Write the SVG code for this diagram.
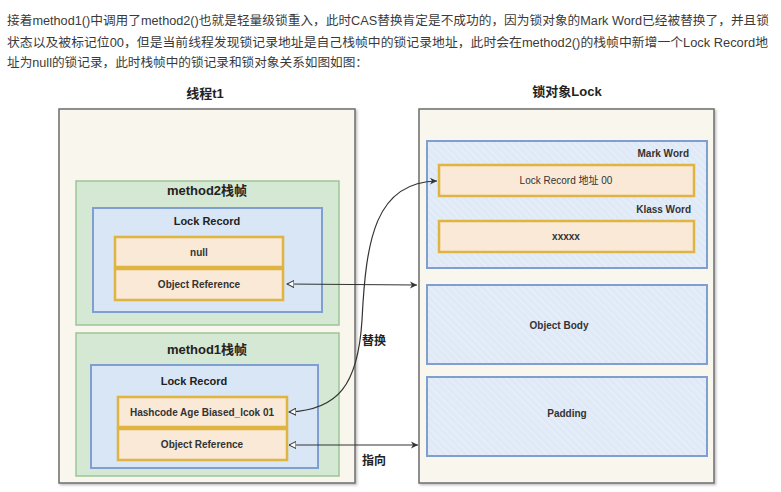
<svg xmlns="http://www.w3.org/2000/svg" width="781" height="492" viewBox="0 0 781 492">
<style>
text{font-family:"Liberation Sans","Noto Sans CJK SC",sans-serif;fill:#333;}
.para{font-size:12.5px;fill:#3a3a3a;}
.outer{fill:#f9f7ed;stroke:#6e6e6e;stroke-width:1.5;filter:url(#sh);}
.frame{fill:#d5e8d4;stroke:#9cc596;stroke-width:1.5;}
.blue{fill:url(#hatch);stroke:#7e9fcf;stroke-width:2;}
.blue2{fill:#d8e6f5;stroke:#7e9fcf;stroke-width:2;}
.ora{fill:#f9e9d6;stroke:#e0b440;stroke-width:2.5;}
.lbl{font-size:10px;font-weight:bold;text-anchor:middle;fill:#333;}
.ftitle{font-size:13px;font-weight:bold;text-anchor:middle;fill:#222;}
.lr{font-size:11px;font-weight:bold;text-anchor:middle;fill:#222;}
.con{fill:none;stroke:#333;stroke-width:1.2;}
</style>
<defs>
<filter id="sh" x="-5%" y="-5%" width="110%" height="110%"><feDropShadow dx="1.5" dy="1.5" stdDeviation="1.2" flood-color="#000" flood-opacity="0.25"/></filter>
<pattern id="hatch" width="5" height="5" patternUnits="userSpaceOnUse" patternTransform="rotate(-45)">
<rect width="5" height="5" fill="#e0eaf7"/>
<line x1="0" y1="0" x2="0" y2="5" stroke="#ebf1fa" stroke-width="1.5"/>
</pattern>
<marker id="af" markerWidth="8" markerHeight="8" refX="7" refY="4" orient="auto" markerUnits="userSpaceOnUse"><path d="M0,0.5 L7,4 L0,7.5 L2,4 Z" fill="#333"/></marker>
<marker id="ao" markerWidth="8" markerHeight="8" refX="7" refY="4" orient="auto-start-reverse" markerUnits="userSpaceOnUse"><path d="M0,0.5 L7,4 L0,7.5 Z" fill="#fff" stroke="#333" stroke-width="1"/></marker>
</defs>
<rect width="781" height="492" fill="#fff"/>
<g id="para">
<text class="para" x="7" y="25" textLength="762" lengthAdjust="spacingAndGlyphs">接着method1()中调用了method2()也就是轻量级锁重入，此时CAS替换肯定是不成功的，因为锁对象的Mark Word已经被替换了，并且锁</text>
<text class="para" x="7" y="47" textLength="761" lengthAdjust="spacingAndGlyphs">状态以及被标记位00，但是当前线程发现锁记录地址是自己栈帧中的锁记录地址，此时会在method2()的栈帧中新增一个Lock Record地</text>
<text class="para" x="7" y="67" textLength="361" lengthAdjust="spacingAndGlyphs">址为null的锁记录，此时栈帧中的锁记录和锁对象关系如图如图：</text>
</g>
<g id="thread">
<text class="ftitle" x="205" y="98">线程t1</text>
<rect class="outer" x="59" y="109" width="296" height="374"/>
</g>
<g id="method2">
<rect class="frame" x="76" y="181" width="263" height="144"/>
<text class="ftitle" x="207" y="195">method2栈帧</text>
<rect class="blue2" x="93" y="208" width="229" height="104"/>
<text class="lr" x="207" y="225">Lock Record</text>
<rect class="ora" x="115" y="237" width="168" height="30"/>
<text class="lbl" x="199" y="256" font-size="9">null</text>
<rect class="ora" x="115" y="269" width="168" height="31"/>
<text class="lbl" x="199" y="288">Object Reference</text>
</g>
<g id="method1">
<rect class="frame" x="76" y="333" width="263" height="143"/>
<text class="ftitle" x="207" y="354">method1栈帧</text>
<rect class="blue2" x="91" y="365" width="227" height="103"/>
<text class="lr" x="194" y="385">Lock Record</text>
<rect class="ora" x="118" y="397" width="169" height="30"/>
<text class="lbl" x="202" y="416">Hashcode Age Biased_lcok 01</text>
<rect class="ora" x="118" y="429" width="169" height="31"/>
<text class="lbl" x="202" y="448">Object Reference</text>
</g>
<g id="lock">
<text class="ftitle" x="567" y="96">锁对象Lock</text>
<rect class="outer" x="419" y="109" width="295" height="374"/>
</g>
<g id="markword">
<rect class="blue" x="427" y="141" width="280" height="127"/>
<text class="lbl" x="689" y="157" style="text-anchor:end">Mark Word</text>
<rect class="ora" x="439" y="165" width="255" height="31"/>
<text class="lbl" x="566" y="184" style="font-weight:normal">Lock Record 地址 00</text>
<text class="lbl" x="691" y="213" style="text-anchor:end">Klass Word</text>
<rect class="ora" x="439" y="221" width="255" height="31"/>
<text class="lbl" x="566" y="240" font-size="9">xxxxx</text>
</g>
<g id="body">
<rect class="blue" x="427" y="285" width="280" height="79"/>
<text class="lbl" x="559" y="329">Object Body</text>
</g>
<g id="padding">
<rect class="blue" x="427" y="377" width="280" height="79"/>
<text class="lbl" x="567" y="417">Padding</text>
</g>
<g id="connectors">
<path class="con" d="M287,284 L417,285" marker-start="url(#ao)" marker-end="url(#af)"/>
<path class="con" d="M289,412 C338,410 358,385 362,320 C366,240 375,182 437,181" marker-start="url(#ao)" marker-end="url(#af)"/>
<path class="con" d="M289,445 L418,445" marker-start="url(#ao)" marker-end="url(#af)"/>
<text x="362" y="345" font-size="12" style="font-weight:bold;fill:#222">替换</text>
<text x="362" y="465" font-size="12" style="font-weight:bold;fill:#222">指向</text>
</g>
</svg>
